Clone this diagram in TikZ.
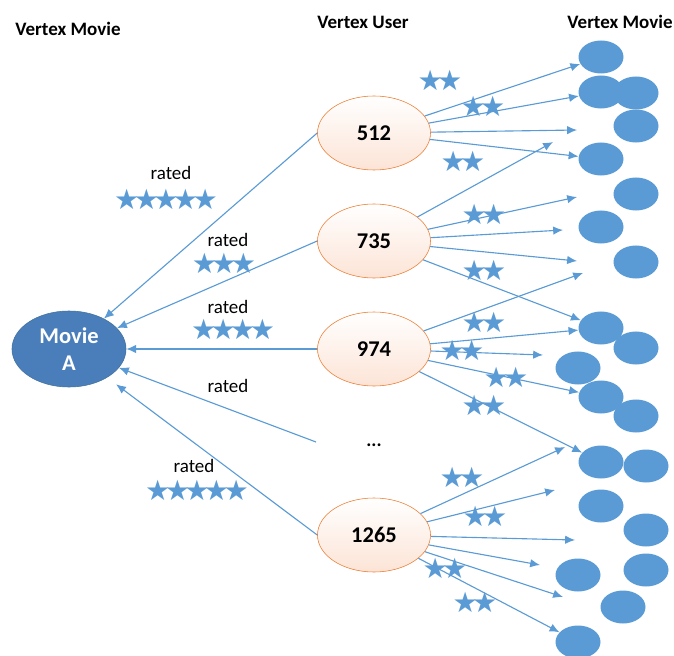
\documentclass[tikz,border=0pt]{standalone}
\usepackage{fontspec}
\setmainfont{Carlito}
\newfontfamily\starfont{DejaVu Sans}
\usetikzlibrary{shapes.geometric,arrows.meta}
\definecolor{arrowblue}{RGB}{91, 155, 213}
\definecolor{movieblue}{RGB}{74, 126, 187}
\definecolor{movieedge}{RGB}{65, 113, 156}
\definecolor{userorange}{RGB}{237, 125, 49}
\definecolor{userfill}{RGB}{252, 228, 214}
\newcommand{\starrow}[1]{\foreach \n in {1,...,#1}{\ifnum\n>1\kern-0.2em\fi★}}

\begin{document}
\begin{tikzpicture}
  [
    x=0.025cm, y=-0.025cm,
    head/.style={font=\fontsize{13.5}{16}\selectfont\bfseries},
    rated/.style={font=\fontsize{13.5}{16}\selectfont},
    stars/.style={font=\starfont\fontsize{20}{22}\selectfont, text=arrowblue, inner sep=0pt},
    movie/.style={ellipse, draw=movieedge, fill=movieblue, text=white, minimum width=2.85cm, minimum height=1.9cm, inner sep=0pt, align=center, font=\fontsize{16}{19}\selectfont\bfseries},
    user/.style={ellipse, draw=userorange, top color=white, bottom color=userfill, minimum width=2.825cm, minimum height=1.85cm, inner sep=0pt, font=\fontsize{16}{19}\selectfont\bfseries},
    other/.style={ellipse, fill=arrowblue, minimum width=1.125cm, minimum height=0.825cm, inner sep=0pt},
    flow/.style={->, >={Latex[length=7pt, width=6pt]}, arrowblue, line width=0.8pt}
  ]
  \useasboundingbox (0, 0) rectangle (674, 655);

  \node[head] (lefthead) at (68, 29) {Vertex Movie};
  \node[head] (userhead) at (363, 22) {Vertex User};
  \node[head] (righthead) at (620, 22) {Vertex Movie};

  \node[movie] (movie) at (69, 349) {Movie\\A};

  \node[user] (u512) at (374, 133) {512};
  \node[user] (u735) at (374, 241) {735};
  \node[user] (u974) at (374, 349) {974};
  \node[head] (dots) at (374, 445) {...};
  \node[user] (u1265) at (374, 535) {1265};
  \coordinate (gap) at (316, 442);

  % movies rated by the users
  \node[other] (c1) at (601, 57) {};
  \node[other] (c2) at (601, 92) {};
  \node[other] (c3) at (636, 93) {};
  \node[other] (c4) at (636, 126) {};
  \node[other] (c5) at (601, 159) {};
  \node[other] (c6) at (636, 194) {};
  \node[other] (c7) at (601, 227) {};
  \node[other] (c8) at (636, 262) {};
  \node[other] (c9) at (601, 328) {};
  \node[other] (c10) at (636, 348) {};
  \node[other] (c11) at (578, 368) {};
  \node[other] (c12) at (601, 397) {};
  \node[other] (c13) at (636, 416) {};
  \node[other] (c14) at (601, 462) {};
  \node[other] (c15) at (646, 466) {};
  \node[other] (c16) at (601, 506) {};
  \node[other] (c17) at (646, 530) {};
  \node[other] (c18) at (646, 570) {};
  \node[other] (c19) at (578, 575) {};
  \node[other] (c20) at (623, 607) {};
  \node[other] (c21) at (578, 642) {};

  \coordinate (t1) at (577, 130);
  \coordinate (t2) at (553, 142);
  \coordinate (t3) at (577, 197);
  \coordinate (t4) at (563, 230);
  \coordinate (t5) at (577, 261);
  \coordinate (t6) at (583, 273);
  \coordinate (t7) at (543, 355);
  \coordinate (t8) at (565, 447);
  \coordinate (t9) at (555, 490);
  \coordinate (t10) at (575, 540);
  \coordinate (t11) at (540, 565);
  \coordinate (t12) at (563, 597);

  \draw[flow] (u512.west) -- (movie);
  \draw[flow] (u735.west) -- (movie);
  \draw[flow] (u974.west) -- (movie);
  \draw[flow] (gap) -- (movie);
  \draw[flow, shorten >=0.28cm] (u1265.west) -- (movie);

  \draw[flow] (u512) -- (c1);
  \draw[flow] (u512) -- (c2);
  \draw[flow] (u512) -- (t1);
  \draw[flow] (u512) -- (c5);

  \draw[flow] (u735) -- (t2);
  \draw[flow] (u735) -- (t3);
  \draw[flow] (u735) -- (t4);
  \draw[flow] (u735) -- (t5);
  \draw[flow] (u735) -- (c9);

  \draw[flow] (u974) -- (t6);
  \draw[flow] (u974) -- (c9);
  \draw[flow] (u974) -- (t7);
  \draw[flow] (u974) -- (c12);
  \draw[flow] (u974) -- (c14);

  \draw[flow] (u1265) -- (t8);
  \draw[flow] (u1265) -- (t9);
  \draw[flow] (u1265) -- (t10);
  \draw[flow] (u1265) -- (t11);
  \draw[flow] (u1265) -- (t12);
  \draw[flow] (u1265) -- (c21);

  \node[rated] (r1) at (171, 173) {rated};
  \node[stars] (s1) at (166, 199) {\starrow{5}};
  \node[rated] (r2) at (228, 240) {rated};
  \node[stars] (s2) at (224, 263) {\starrow{3}};
  \node[rated] (r3) at (228, 307) {rated};
  \node[stars] (s3) at (233, 329) {\starrow{4}};
  \node[rated] (r4) at (228, 386) {rated};
  \node[rated] (r5) at (194, 466) {rated};
  \node[stars] (s5) at (197, 490) {\starrow{5}};

  \node[stars] at (440, 80) {\starrow{2}};
  \node[stars] at (483, 106) {\starrow{2}};
  \node[stars] at (463, 161) {\starrow{2}};
  \node[stars] at (484, 214) {\starrow{2}};
  \node[stars] at (484, 270) {\starrow{2}};
  \node[stars] at (484, 322) {\starrow{2}};
  \node[stars] at (462, 350) {\starrow{2}};
  \node[stars] at (506, 377) {\starrow{2}};
  \node[stars] at (484, 405) {\starrow{2}};
  \node[stars] at (462, 477) {\starrow{2}};
  \node[stars] at (485, 516) {\starrow{2}};
  \node[stars] at (445, 568) {\starrow{2}};
  \node[stars] at (475, 602) {\starrow{2}};
\end{tikzpicture}
\end{document}
